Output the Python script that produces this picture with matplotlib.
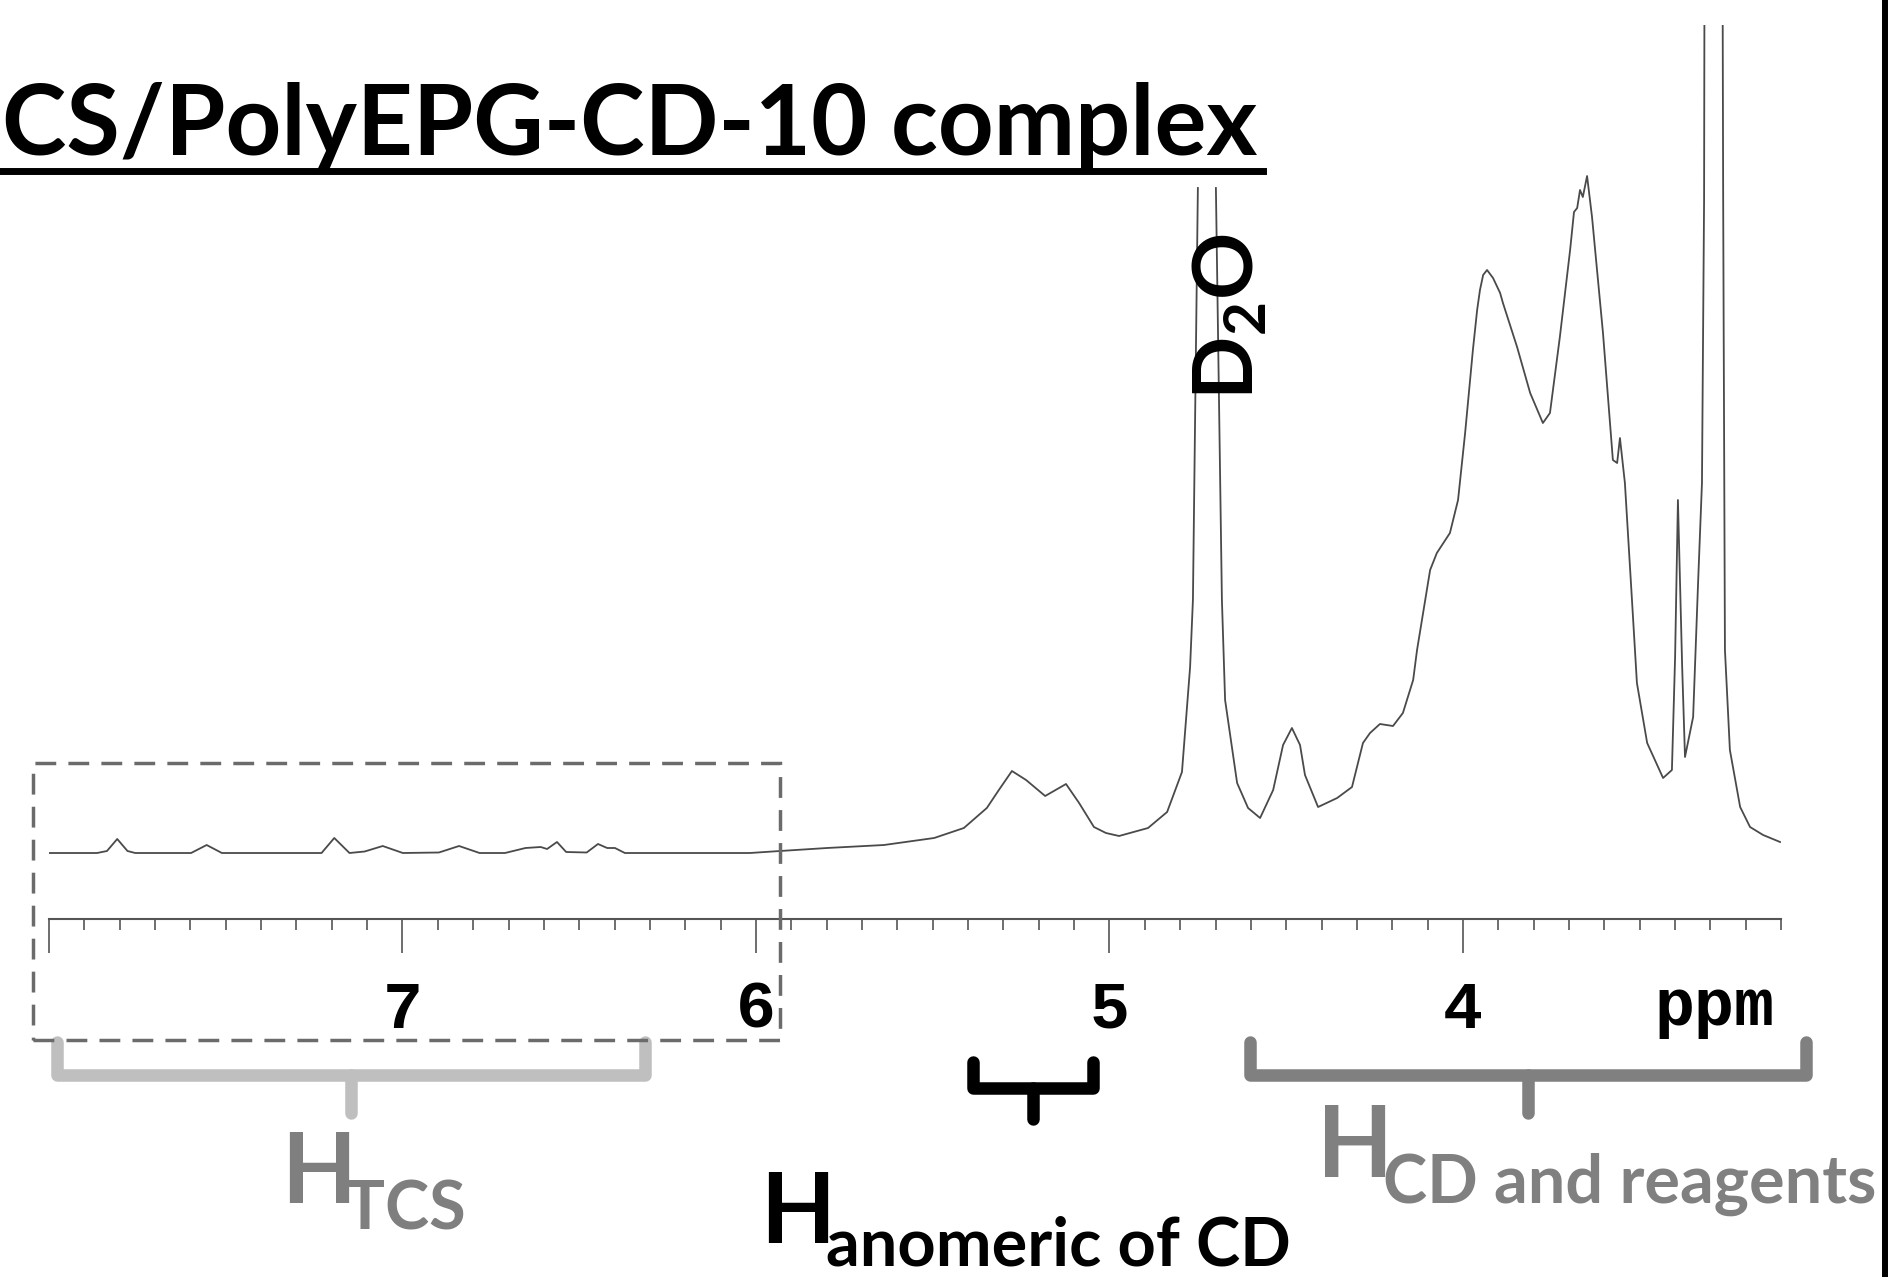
import numpy as np
import matplotlib
matplotlib.use("Agg")
import matplotlib.pyplot as plt
import matplotlib.transforms as mtransforms
from matplotlib.lines import Line2D
from matplotlib.patches import Rectangle
from matplotlib.ticker import FixedLocator, FixedFormatter, MultipleLocator

W, H = 1897, 1277
nan = np.nan

# 1H NMR trace (ppm, intensity in arbitrary units)
# the D2O signal is cut off in the original, hence the gap
ppm = [8.005, 7.864, 7.836, 7.807, 7.778, 7.756, 7.598, 7.554, 7.511, 7.229,
       7.193, 7.150, 7.107, 7.056, 6.999, 6.897, 6.840, 6.782, 6.710, 6.652,
       6.609, 6.591, 6.563, 6.537, 6.479, 6.447, 6.421, 6.399, 6.371, 6.017,
       5.932, 5.799, 5.638, 5.496, 5.412, 5.347, 5.313, 5.276, 5.236, 5.182,
       5.123, 5.086, 5.044, 5.010, 4.973, 4.891, 4.837, 4.795, 4.772, 4.764,
       4.750, nan, 4.699, 4.682, 4.673, 4.639, 4.608, 4.574, 4.537, 4.509,
       4.484, 4.461, 4.447, 4.410, 4.356, 4.314, 4.283, 4.263, 4.235, 4.198,
       4.170, 4.141, 4.130, 4.093, 4.074, 4.037, 4.014, 3.994, 3.972, 3.960,
       3.952, 3.943, 3.932, 3.915, 3.895, 3.887, 3.847, 3.810, 3.774, 3.754,
       3.726, 3.697, 3.686, 3.677, 3.669, 3.661, 3.649, 3.635, 3.604, 3.576,
       3.564, 3.556, 3.542, 3.522, 3.508, 3.479, 3.434, 3.409, 3.400, 3.392,
       3.380, 3.372, 3.349, 3.335, 3.324, 3.318, 3.316, 3.267, 3.264, 3.259,
       3.245, 3.216, 3.188, 3.151, 3.103]
intensity = [0, 0, 0.2, 1.4, 0.2, 0, 0, 0.8, 0, 0,
             1.5, 0, 0.15, 0.7, 0, 0.05, 0.7, 0, 0, 0.5,
             0.6, 0.4, 1.1, 0.1, 0.05, 0.9, 0.5, 0.5, 0, 0,
             0.2, 0.5, 0.8, 1.5, 2.5, 4.5, 6.3, 8.2, 7.3, 5.7,
             6.9, 5.0, 2.6, 2.0, 1.7, 2.5, 4.1, 8.1, 18.6, 25.3,
             66.5, nan, 66.5, 25.3, 15.3, 7.0, 4.5, 3.5, 6.3, 10.8,
             12.5, 10.8, 7.8, 4.6, 5.5, 6.6, 11.0, 12.0, 12.9, 12.7,
             14.0, 17.3, 20.3, 28.3, 30.0, 32.0, 35.3, 42.0, 50.3, 54.3,
             56.3, 57.8, 58.3, 57.5, 56.0, 55.0, 50.6, 46.0, 43.0, 44.0,
             51.6, 60.3, 64.1, 64.5, 66.3, 65.6, 67.7, 63.6, 52.0, 39.3,
             39.0, 41.5, 37.0, 25.3, 17.0, 11.0, 7.5, 8.3, 19.6, 35.3,
             18.6, 9.6, 13.6, 27.0, 37.0, 65.3, 105, 105, 65.3, 20.3,
             10.3, 4.6, 2.6, 1.8, 1.1]

major_ticks = [8, 7, 6, 5, 4]
major_labels = ["", "7", "6", "5", "4"]

# ppm ranges of the assignment brackets and the zoom box
tcs_range = [7.977, 6.314]
anomeric_range = [5.386, 5.047]
cd_range = [4.603, 3.030]
box_range = [8.045, 5.932]

plt.rcParams["mathtext.fontset"] = "custom"
plt.rcParams["mathtext.rm"] = "Lato:bold"
plt.rcParams["mathtext.bf"] = "Lato:bold"


def fy(y):
    # pixel row (from top) -> figure fraction
    return 1 - y / H


fig = plt.figure(figsize=(W / 100, H / 100), dpi=100)
fig.patch.set_facecolor("white")

ax = fig.add_axes([49 / W, fy(919), 1732.5 / W, (919 - 25) / H])
ax.plot(ppm, intensity, color="#4a4a4a", lw=1.3)
ax.set_xlim(8.0, 3.099)
ax.set_ylim(-6.6, 82.8)
ax.patch.set_alpha(0)
for s in ["top", "left", "right"]:
    ax.spines[s].set_visible(False)
ax.spines["bottom"].set_color("#555555")
ax.spines["bottom"].set_linewidth(1.5)
ax.set_yticks([])
ax.xaxis.set_major_locator(FixedLocator(major_ticks))
ax.xaxis.set_major_formatter(FixedFormatter(major_labels))
ax.xaxis.set_minor_locator(MultipleLocator(0.1))
ax.tick_params(axis="x", which="major", length=24.5, width=1.2,
               color="#555555", pad=19, labelsize=48)
ax.tick_params(axis="x", which="minor", length=8, width=1.2, color="#555555")
for lab in ax.get_xticklabels():
    lab.set_fontfamily("Liberation Mono")
    lab.set_fontweight("bold")
ax.text(3.29, (919 - 1025) / 894, "ppm", transform=ax.get_xaxis_transform(),
        ha="center", va="baseline", fontsize=48, fontweight="bold",
        fontfamily="Liberation Mono")

trans = mtransforms.blended_transform_factory(ax.transData, fig.transFigure)

# dashed zoom box round the aromatic region
ax.add_patch(Rectangle((box_range[0], fy(1040)), box_range[1] - box_range[0],
                       (1040 - 763) / H, transform=trans, fill=False,
                       edgecolor="#6b6b6b", lw=2.5, ls=(0, (6, 3.5)),
                       clip_on=False, zorder=4))


def bracket(rng, top, bar, tip, color):
    x0, x1 = rng
    xm = (x0 + x1) / 2
    kw = dict(transform=trans, color=color, lw=9, clip_on=False,
              solid_joinstyle="round", solid_capstyle="round", zorder=3)
    ax.plot([x0, x0, x1, x1], [fy(top), fy(bar), fy(bar), fy(top)], **kw)
    ax.plot([xm, xm], [fy(bar), fy(tip)], **kw)


bracket(tcs_range, 1042, 1075, 1113, "#bfbfbf")
bracket(anomeric_range, 1062, 1088, 1119, "black")
bracket(cd_range, 1042, 1075, 1113, "#808080")

# labels
bold = dict(fontfamily="Lato", fontweight="bold", va="baseline")
fig.text(2 / W, fy(155), "CS/PolyEPG-CD-10 complex", fontsize=70, **bold)
fig.add_artist(Line2D([0, 1263 / W], [fy(171), fy(171)], color="black", lw=5))

fig.text(1253 / W, fy(400), r"D$_\mathbf{2}$O", rotation=90,
         rotation_mode="anchor", ha="left", fontsize=60, **bold)

fig.text(281 / W, fy(1203), "H", fontsize=70, color="#7f7f7f", **bold)
fig.text(345 / W, fy(1230), "TCS", fontsize=48, color="#7f7f7f", **bold)

fig.text(760 / W, fy(1243), "H", fontsize=70, color="black", **bold)
fig.text(826 / W, fy(1265), "anomeric of CD", fontsize=48, color="black", **bold)

fig.text(1317 / W, fy(1177), "H", fontsize=71, color="#808080", **bold)
fig.text(1383 / W, fy(1203), "CD and reagents", fontsize=48, color="#808080", **bold)

# frame edge on the right
fig.add_artist(Line2D([1885 / W, 1885 / W], [0, 1], color="black", lw=4.3))

fig.savefig("out.png", dpi=100, facecolor="white")
